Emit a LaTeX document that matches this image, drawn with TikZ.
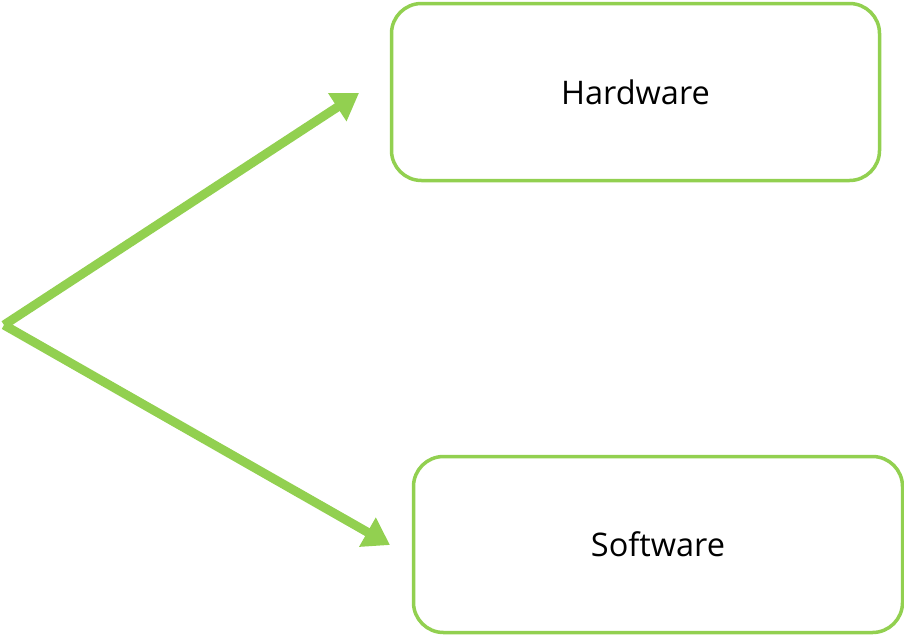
\documentclass[tikz,border=0pt]{standalone}
\usepackage{fontspec}
\setmainfont{Open Sans}
\usetikzlibrary{arrows.meta}
\definecolor{leaf}{HTML}{92D050}
\begin{document}
\begin{tikzpicture}[x=1pt,y=-1pt,
  panel/.style={draw=leaf,line width=3.5pt,rounded corners=30pt,fill=white,
    font=\fontsize{32.5}{38}\selectfont},
  branch/.style={draw=leaf,line width=9pt,
    -{Triangle[length=26pt,width=32pt]}}]
\useasboundingbox (0,0) rectangle (904,635);
\node[panel,minimum width=488pt,minimum height=177pt] (hw) at (635.5,92) {Hardware};
\node[panel,minimum width=489pt,minimum height=176pt] (sw) at (658,544.5) {Software};
\coordinate (root) at (4,325);
\coordinate (hwtip) at (359,93);
\coordinate (swtip) at (390,545);
\draw[branch] (root) -- (hwtip);
\draw[branch] (root) -- (swtip);
\end{tikzpicture}
\end{document}
